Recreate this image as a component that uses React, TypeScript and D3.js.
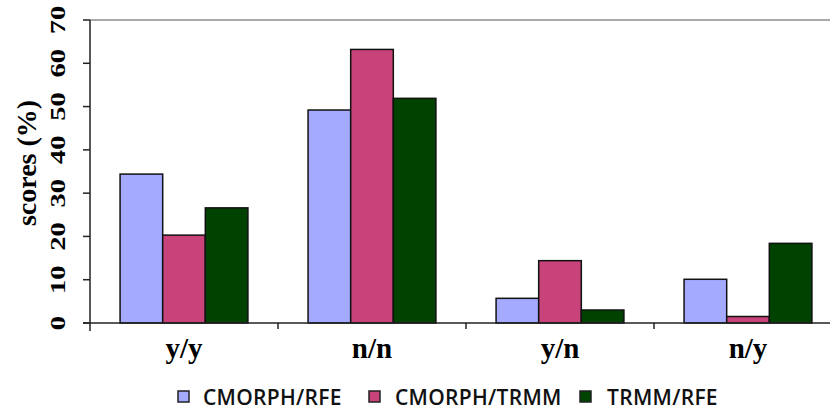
import React from "react";
import * as d3 from "d3";

const categories = ["y/y", "n/n", "y/n", "n/y"];
const seriesNames = ["CMORPH/RFE", "CMORPH/TRMM", "TRMM/RFE"];
const cmorphRfe = [34.4, 49.2, 5.7, 10.1];
const cmorphTrmm = [20.3, 63.2, 14.4, 1.5];
const trmmRfe = [26.6, 51.9, 3.0, 18.4];
const yTicks = [0, 10, 20, 30, 40, 50, 60, 70];
const colors = ["#a3aaff", "#c8437a", "#004200"];

const W = 830;
const H = 413;

export default function App() {
  const series = [cmorphRfe, cmorphTrmm, trmmRfe];
  const x = d3.scaleBand<string>().domain(categories).range([90, 842]).paddingInner(0.32).paddingOuter(0.16);
  const step = x.step();
  const xSub = d3.scaleBand<string>().domain(seriesNames).range([0, x.bandwidth()]).padding(0);
  const y = d3.scaleLinear().domain([0, 70]).range([323, 20]);
  const x0 = 90;
  const y0 = y(0);
  const serif = "'Liberation Serif', 'Times New Roman', serif";
  const sans = "'Open Sans', 'Noto Sans', sans-serif";
  const legendBoxX = [178, 369, 580];
  const legendTextX = [203, 395, 607];
  const boundaries = categories.map((c) => (x(c) as number) - (step - x.bandwidth()) / 2 + step);

  return (
    <svg width={W} height={H} style={{ position: "absolute", left: 0, top: 0, display: "block", background: "#fff" }}>
      {/* top border */}
      <line x1={x0} x2={W} y1={y(70)} y2={y(70)} stroke="#aaaaaa" strokeWidth={2} />
      {/* bars */}
      {categories.map((c, i) => (
        <g key={c} transform={`translate(${x(c)},0)`}>
          {series.map((s, j) => (
            <rect
              key={j}
              x={xSub(seriesNames[j])}
              y={y(s[i])}
              width={xSub.bandwidth()}
              height={y0 - y(s[i])}
              fill={colors[j]}
              stroke="#111"
              strokeWidth={1.5}
            />
          ))}
        </g>
      ))}
      {/* y axis */}
      <line x1={x0} x2={x0} y1={y(70)} y2={y0 + 8} stroke="#222" strokeWidth={1.5} />
      {yTicks.map((t) => (
        <g key={t}>
          <line x1={x0 - 7} x2={x0} y1={y(t)} y2={y(t)} stroke="#222" strokeWidth={1.5} />
          <text
            transform={`translate(65,${y(t)}) rotate(-90) scale(1.3,1)`}
            textAnchor="middle"
            fontFamily={serif}
            fontWeight="bold"
            fontSize={22}
            fill="#000"
          >
            {t}
          </text>
        </g>
      ))}
      <text
        transform={`translate(36,163) rotate(-90)`}
        textAnchor="middle"
        fontFamily={serif}
        fontWeight="bold"
        fontSize={28}
        fill="#000"
      >
        scores (%)
      </text>
      {/* x axis */}
      <line x1={x0 - 7} x2={W} y1={y0} y2={y0} stroke="#222" strokeWidth={1.5} />
      {boundaries.map((b, i) => (
        <line key={i} x1={b} x2={b} y1={y0} y2={y0 + 6} stroke="#222" strokeWidth={1.5} />
      ))}
      {categories.map((c) => (
        <text
          key={c}
          x={(x(c) as number) + x.bandwidth() / 2}
          y={358}
          textAnchor="middle"
          fontFamily={serif}
          fontWeight="bold"
          fontSize={29}
          fill="#000"
        >
          {c}
        </text>
      ))}
      {/* legend */}
      {seriesNames.map((n, j) => (
        <g key={n}>
          <rect x={legendBoxX[j]} y={391} width={11} height={11} fill={colors[j]} stroke="#222" strokeWidth={1.5} />
          <text x={legendTextX[j]} y={405} fontFamily={sans} fontWeight={600} fontSize={21} letterSpacing={0.3} fill="#111">
            {n}
          </text>
        </g>
      ))}
    </svg>
  );
}
